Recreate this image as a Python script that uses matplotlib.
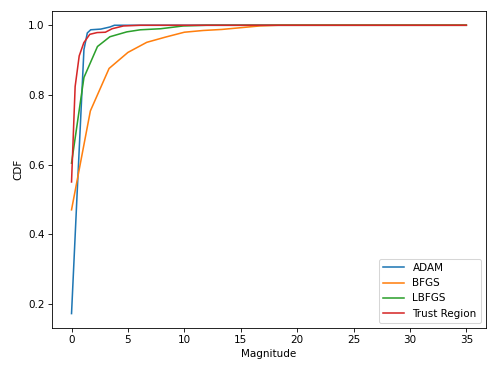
import matplotlib
matplotlib.use('Agg')
import matplotlib.pyplot as plt

# values
adam_x = [0, 0.5, 1.1, 1.4, 1.7, 2.6, 3.0, 3.4, 3.8, 35]
adam_y = [0.172, 0.52, 0.93, 0.978, 0.987, 0.989, 0.992, 0.995, 1.0, 1.0]

bfgs_x = [0, 1.67, 3.33, 5.0, 6.67, 8.33, 10.0, 11.67, 13.33, 15.0, 16.67, 18.33, 35]
bfgs_y = [0.47, 0.754, 0.876, 0.922, 0.951, 0.966, 0.980, 0.985, 0.988, 0.993, 0.998, 1.0, 1.0]

lbfgs_x = [0, 1.1, 2.3, 3.4, 4.9, 6.1, 7.9, 9.9, 12.0, 35]
lbfgs_y = [0.604, 0.85, 0.939, 0.967, 0.981, 0.987, 0.990, 0.998, 1.0, 1.0]

trust_x = [0, 0.32, 0.68, 1.09, 1.62, 2.27, 3.0, 3.6, 4.6, 6.1, 35]
trust_y = [0.55, 0.824, 0.912, 0.95, 0.974, 0.979, 0.980, 0.990, 0.998, 1.0, 1.0]

labels = ['ADAM', 'BFGS', 'LBFGS', 'Trust Region']

fig = plt.figure(figsize=(6.64, 4.9867), dpi=75)
ax = fig.add_subplot(111)
fig.subplots_adjust(left=0.104, right=0.976, top=0.971, bottom=0.123)

ax.plot(adam_x, adam_y, label=labels[0])
ax.plot(bfgs_x, bfgs_y, label=labels[1])
ax.plot(lbfgs_x, lbfgs_y, label=labels[2])
ax.plot(trust_x, trust_y, label=labels[3])

ax.set_xlabel('Magnitude')
ax.set_ylabel('CDF')
ax.legend(loc='lower right')

fig.savefig('out.png', dpi=75)
